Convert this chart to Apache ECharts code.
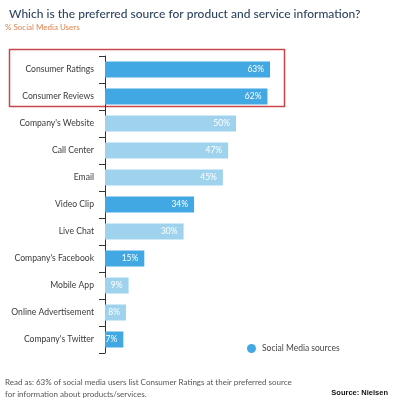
<!DOCTYPE html>
<html><head><meta charset="utf-8">
<script src="https://cdn.jsdelivr.net/npm/echarts@6/dist/echarts.min.js"></script>
<style>html,body{margin:0;padding:0;background:#fff}#c{width:393px;height:400px}</style>
</head><body><div id="c"></div>
<script>
const categories = ["Consumer Ratings","Consumer Reviews","Company's Website","Call Center","Email","Video Clip","Live Chat","Company's Facebook","Mobile App","Online Advertisement","Company's Twitter"];
const values = [63,62,50,47,45,34,30,15,9,8,7];
const isSocial = [true,true,false,false,false,true,false,true,false,false,true];
const titleText = "Which is the preferred source for product and service information?";
const subtitleText = "% Social Media Users";
const legendName = "Social Media sources";
const noteLines = ["Read as: 63% of social media users list Consumer Ratings at their preferred source","for information about products/services."];
const sourceText = "Source: Nielsen";

const DARK = '#42a8e4', LIGHT = '#9fd3ed';
const FONT = 'Lato';
const socialData = values.map((v,i)=> isSocial[i] ? v : null);
const otherData = values.map((v,i)=> isSocial[i] ? null : v);
const lbl = {show:true, position:'insideRight', distance:6, color:'#fff', fontSize:8.5, fontFamily:FONT, formatter:p=>p.value+'%'};

const chart = echarts.init(document.getElementById('c'), null, {renderer:'canvas'});
chart.setOption({
  animation:false,
  title:{text:titleText, left:4, top:3, textStyle:{fontFamily:FONT, fontSize:12, fontWeight:500, color:'#2f4560'}},
  grid:{left:105, top:56, width:262, height:297, outerBoundsMode:'none', containLabel:false},
  xAxis:{type:'value', min:0, max:100, show:false},
  yAxis:{type:'category', data:categories, inverse:true,
    axisLine:{show:true, lineStyle:{color:'#333', width:1}},
    axisTick:{show:true, length:6, lineStyle:{color:'#333'}},
    axisLabel:{fontFamily:FONT, fontSize:8.6, color:'#3a3a3a', margin:11}},
  legend:{data:[{name:legendName, icon:'circle'}], left:242, top:339, itemWidth:9, itemHeight:9, itemGap:6,
    textStyle:{fontFamily:FONT, fontSize:8.5, color:'#444', padding:[0,0,0,1]}},
  series:[
    {name:legendName, type:'bar', data:socialData, barWidth:16, barGap:'-100%', itemStyle:{color:DARK}, label:lbl},
    {name:'Other', type:'bar', data:otherData, barWidth:16, barGap:'-100%', itemStyle:{color:LIGHT}, label:lbl}
  ],
  graphic:[
    {type:'text', left:5, top:23, style:{text:subtitleText, fontFamily:FONT, fontSize:8, fill:'#d9834e'}},
    {type:'rect', shape:{x:9.5, y:49.5, width:275, height:57}, style:{fill:'none', stroke:'#c9474b', lineWidth:1.5}},
    {type:'text', left:5, top:376, style:{text:noteLines.join('\n'), fontFamily:FONT, fontSize:8, lineHeight:12, fill:'#555'}},
    {type:'text', right:5, top:389, style:{text:sourceText, fontFamily:'Liberation Sans', fontSize:7.5, fontWeight:'bold', fill:'#111'}}
  ]
});
</script></body></html>
